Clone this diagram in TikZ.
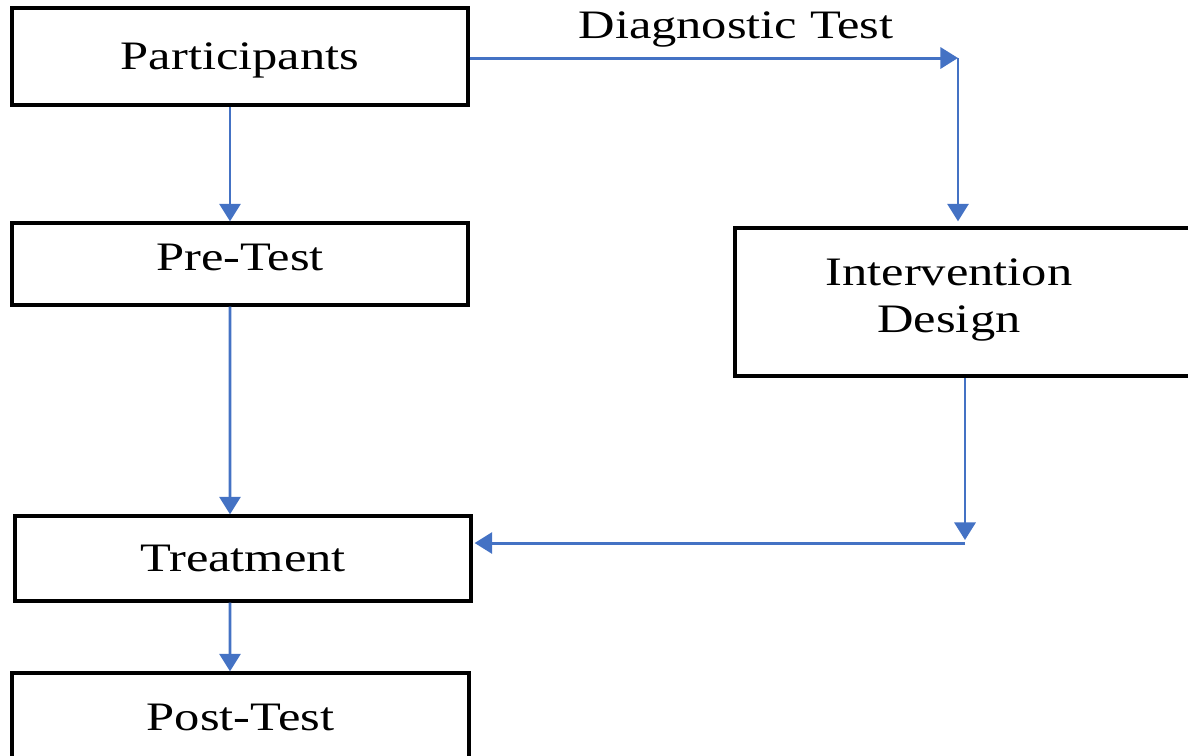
\documentclass[tikz,border=0pt]{standalone}
\usepackage{fontspec}
\setmainfont{Liberation Serif}[FakeStretch=1.25]
\usetikzlibrary{arrows.meta,calc}
\definecolor{arrblue}{HTML}{4472C4}
\begin{document}
\begin{tikzpicture}[x=0.02cm,y=-0.02cm,
  box/.style={draw=black,line width=1.9pt,rectangle,inner sep=0pt,font=\fontsize{23}{27}\selectfont},
  lbl/.style={inner sep=0pt,font=\fontsize{23}{27}\selectfont,align=center},
  arr/.style={draw=arrblue,line width=1.7pt,-{Triangle[length=10pt,width=12pt]}},
  ln/.style={draw=arrblue,line width=1.7pt}]
\useasboundingbox (0,0) rectangle (1188,755);
\node[box,minimum width=9.12cm,minimum height=1.94cm,text height=19pt,text depth=4pt] (part) at (240,56.5) {Participants};
\node[box,minimum width=9.12cm,minimum height=1.64cm,text height=13pt,text depth=6pt] (pre) at (240,264) {Pre-Test};
\node[box,minimum width=9.12cm,minimum height=1.70cm] (treat) at (243,558.5) {Treatment};
\node[box,minimum width=9.14cm,minimum height=1.78cm] (post) at (240.5,717.5) {Post-Test};
\node[box,minimum width=9.3cm,minimum height=2.96cm] (idbox) at (967.5,302) {};
\node[lbl] (idtext) at (949,300) {Intervention\\Design};
\node[lbl] (diag) at (736,29) {Diagnostic Test};
\coordinate (c1) at (958,58);
\coordinate (c2) at (965,543);
\draw[arr] (part.east |- c1) -- (c1);
\draw[arr] (c1) -- ($(c1|-idbox.north)+(0,-5)$);
\draw[arr] (c2|-idbox.south) -- ($(c2)+(0,-3)$);
\draw[arr] (c2) -- ($(treat.east|-c2)+(2,0)$);
\draw[arr] ([xshift=-0.2cm]part.south) -- ([xshift=-0.2cm]pre.north);
\draw[arr] ([xshift=-0.2cm]pre.south) -- ([xshift=-0.26cm]treat.north);
\draw[arr] ([xshift=-0.26cm]treat.south) -- ([xshift=-0.21cm]post.north);
\end{tikzpicture}
\end{document}
